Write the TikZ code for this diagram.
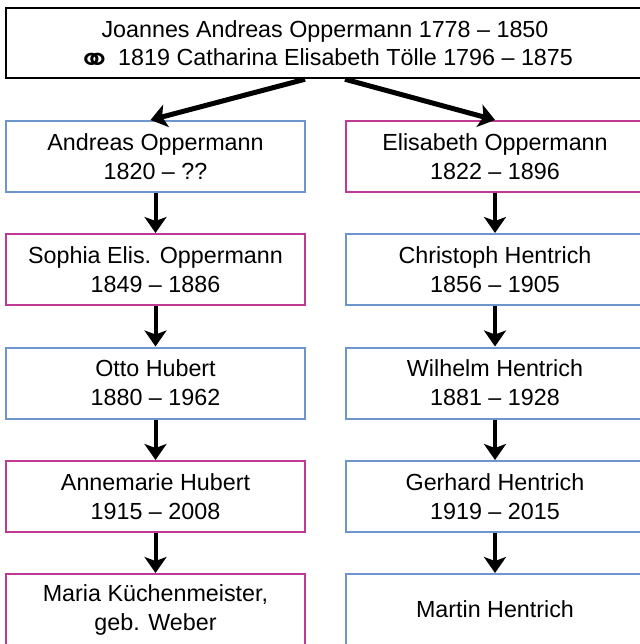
\documentclass[tikz,border=0pt]{standalone}
\usepackage{graphicx}
\usepackage{fontspec}
\setmainfont{Liberation Sans}
\newfontfamily\symfont{DejaVu Sans}
\usetikzlibrary{arrows.meta}
\definecolor{boxblue}{RGB}{108,150,205}
\definecolor{boxpink}{RGB}{190,58,148}
\newcommand{\marrsym}{\raisebox{-7.5pt}[0pt][0pt]{\scalebox{1.15}[1]{\symfont\fontsize{36}{28}\selectfont ⚭}}}
\tikzset{
  person/.style={rectangle, draw, line width=2pt, fill=white, inner sep=0pt,
    minimum width=299pt, minimum height=71pt, align=center,
    font=\fontsize{23.3}{29}\selectfont},
  male/.style={person, draw=boxblue},
  female/.style={person, draw=boxpink},
  toptbox/.style={rectangle, draw=black, line width=2.5pt, inner sep=0pt,
    minimum width=638pt, minimum height=70pt, align=center,
    font=\fontsize{23.3}{28}\selectfont},
  arr/.style={line width=4pt, -{Stealth[length=16pt,width=22pt,inset=4pt]}},
  toparr/.style={line width=5pt, -{Stealth[length=16pt,width=23pt,inset=4pt]}}
}
\begin{document}
\begin{tikzpicture}[x=1pt,y=-1pt]
\useasboundingbox (0,0) rectangle (639,644);
\node[toptbox] (top) at (325,43) {Joannes Andreas Oppermann 1778 -- 1850\\\marrsym{} 1819 Catharina Elisabeth Tölle 1796 -- 1875};

\node[male]   (a1) at (155.5,156.5) {Andreas Oppermann\\1820 -- ??};
\node[female] (a2) at (155.5,269.5) {Sophia Elis. Oppermann\\1849 -- 1886};
\node[male]   (a3) at (155.5,383)   {Otto Hubert\\1880 -- 1962};
\node[female] (a4) at (155.5,496.5) {Annemarie Hubert\\1915 -- 2008};
\node[female] (a5) at (155.5,609.5) {Maria Küchenmeister,\\geb. Weber};

\node[female] (b1) at (495,156.5) {Elisabeth Oppermann\\1822 -- 1896};
\node[male]   (b2) at (495,269.5) {Christoph Hentrich\\1856 -- 1905};
\node[male]   (b3) at (495,383)   {Wilhelm Hentrich\\1881 -- 1928};
\node[male]   (b4) at (495,496.5) {Gerhard Hentrich\\1919 -- 2015};
\node[male]   (b5) at (495,609.5) {Martin Hentrich};

\draw[toparr] ([xshift=-20pt]top.south) -- ([xshift=-5pt]a1.north);
\draw[toparr] ([xshift=20pt]top.south) -- (b1.north);

\draw[arr] (a1.south) -- (a2.north);
\draw[arr] (a2.south) -- (a3.north);
\draw[arr] (a3.south) -- (a4.north);
\draw[arr] (a4.south) -- (a5.north);
\draw[arr] (b1.south) -- (b2.north);
\draw[arr] (b2.south) -- (b3.north);
\draw[arr] (b3.south) -- (b4.north);
\draw[arr] (b4.south) -- (b5.north);
\end{tikzpicture}
\end{document}
